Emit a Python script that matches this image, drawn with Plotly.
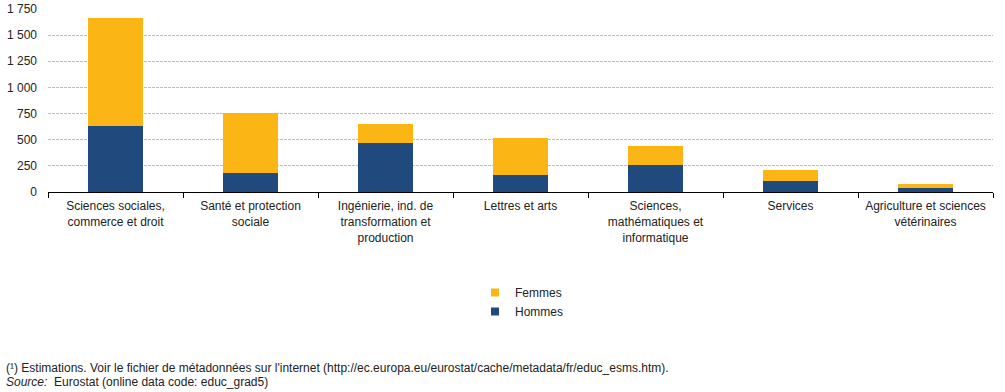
import plotly.graph_objects as go

categories = [
    "Sciences sociales,<br>commerce et droit",
    "Santé et protection<br>sociale",
    "Ingénierie, ind. de<br>transformation et<br>production",
    "Lettres et arts",
    "Sciences,<br>mathématiques et<br>informatique",
    "Services",
    "Agriculture et sciences<br>vétérinaires",
]
hommes = [634, 185, 468, 163, 258, 105, 38]
femmes = [1032, 566, 182, 353, 182, 105, 38]
series_names = ["Hommes", "Femmes"]
series_colors = ["#204A7D", "#FBB616"]

y_ticks = [0, 250, 500, 750, 1000, 1250, 1500, 1750]

FONT = "Liberation Sans, Arial, sans-serif"

fig = go.Figure()
for name, vals, col in zip(series_names, [hommes, femmes], series_colors):
    fig.add_trace(go.Bar(name=name, x=categories, y=vals, marker_color=col,
                         marker_line_width=0, width=0.41, showlegend=False))
# legend entries with small square symbols
for name, col in zip(series_names, series_colors):
    fig.add_trace(go.Scatter(name=name, x=[None], y=[None], mode="markers",
                             marker=dict(symbol="square", size=8, color=col),
                             showlegend=True))

fig.update_layout(
    barmode="stack",
    width=1005, height=392,
    margin=dict(l=48, r=12, t=9, b=200, autoexpand=False),
    paper_bgcolor="white", plot_bgcolor="white",
    separators=", ",
    font=dict(family=FONT, size=12, color="#222222"),
    showlegend=True,
    legend=dict(
        orientation="v", traceorder="reversed",
        x=(475 - 48) / 945, xanchor="left", y=(192 - 278) / 183, yanchor="top",
        font=dict(family=FONT, size=12, color="#222222"),
        itemwidth=30, tracegroupgap=0, bgcolor="rgba(0,0,0,0)",
    ),
    xaxis=dict(
        showline=True, linecolor="black", linewidth=1,
        ticks="outside", tickson="boundaries", ticklen=5, tickcolor="black",
        showgrid=False, tickfont=dict(size=12), automargin=False,
        ticklabelstandoff=3,
    ),
    yaxis=dict(
        range=[0, 1750], tickvals=y_ticks, tickformat=",d",
        showgrid=True, gridcolor="#BDBDBD", griddash="3px,1px", gridwidth=1,
        zeroline=False, showline=False, ticks="", tickfont=dict(size=12),
        automargin=False, ticklabelstandoff=10,
    ),
    annotations=[
        dict(text="(¹) Estimations. Voir le fichier de métadonnées sur l'internet "
                  "(http://ec.europa.eu/eurostat/cache/metadata/fr/educ_esms.htm).",
             xref="paper", yref="paper", x=(4 - 48) / 945, y=(192 - 368) / 183,
             xanchor="left", yanchor="middle",
             showarrow=False, font=dict(size=12, color="#222222")),
        dict(text="<i>Source:</i>  Eurostat (online data code: educ_grad5)",
             xref="paper", yref="paper", x=(4 - 48) / 945, y=(192 - 382) / 183,
             xanchor="left", yanchor="middle",
             showarrow=False, font=dict(size=12, color="#222222")),
    ],
)

fig.write_html("out.html", config={"displayModeBar": False},
               post_script="document.body.style.margin='0';document.body.style.overflow='hidden';")
